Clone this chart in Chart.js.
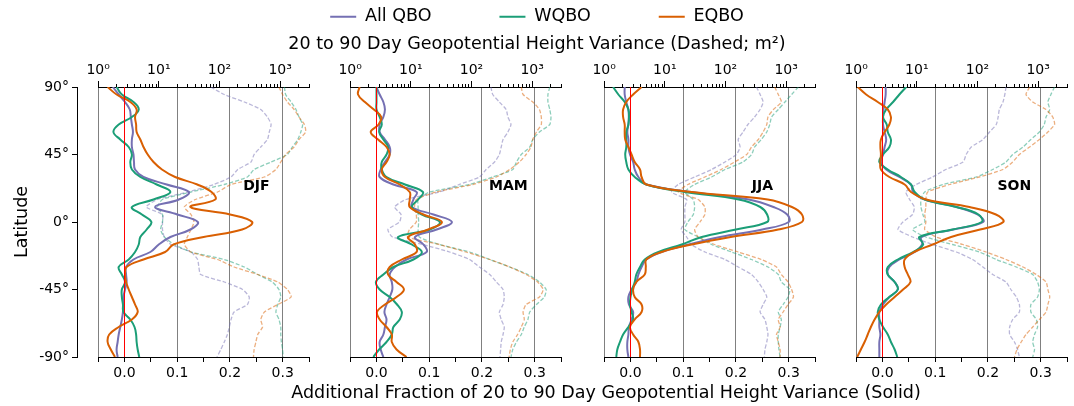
<!DOCTYPE html>
<html>
<head>
<meta charset="utf-8">
<script src="https://cdn.jsdelivr.net/npm/chart.js@4.4.0/dist/chart.umd.min.js"></script>
<style>
  html, body { margin: 0; padding: 0; background: #fff; }
  body { position: relative; width: 1074px; height: 406px; overflow: hidden; }
  canvas { position: absolute; top: 0; }
</style>
</head>
<body>
<canvas id="head" width="1074" height="320" style="left:0;top:-60px"></canvas>
<canvas id="lat" width="1140" height="406" style="left:0"></canvas>
<script>
///////////////////////////////////////////
// data

const seasons = ["DJF", "MAM", "JJA", "SON"];
const seriesNames = ["All QBO", "WQBO", "EQBO"];
const lats = [90, 85, 80, 75, 70, 65, 60, 55, 50, 45, 40, 35, 30, 25, 20, 15, 10, 5, 0,
  -5, -10, -15, -20, -25, -30, -35, -40, -45, -50, -55, -60, -65, -70, -75, -80, -85, -90];
const fracTicks = [0, 0.1, 0.2, 0.3];
const latTicks = [-90, -45, 0, 45, 90];
const zeroLine = [{ x: 0, y: -90 }, { x: 0, y: 90 }];

// additional fraction of variance (solid, bottom axis)
const djfAll = [-0.022,-0.011,0.001,0.01,0.012,0.014,0.016,0.014,0.014,0.017,0.018,0.02,0.036,0.08,0.122,0.103,0.058,0.1,0.139,0.125,0.087,0.065,0.049,0.017,0.003,0.003,0.004,0.001,-0.002,-0.002,-0.003,-0.005,-0.008,-0.011,-0.013,-0.015,-0.013];
const djfW = [-0.015,-0.005,0.017,0.027,0.014,-0.011,-0.021,-0.008,0.008,0.014,0.011,0.014,0.03,0.061,0.087,0.055,0.014,0.033,0.051,0.042,0.03,0.027,0.02,0.008,-0.011,-0.005,0.001,-0.005,-0.005,-0.003,-0.002,0.011,0.019,0.022,0.023,0.025,0.028];
const djfE = [-0.032,-0.015,0.011,0.023,0.02,0.022,0.023,0.03,0.036,0.044,0.055,0.071,0.096,0.138,0.165,0.172,0.125,0.2,0.242,0.223,0.15,0.093,0.077,0.036,0.004,0.001,0.003,0.008,0.014,0.02,0.025,0.014,-0.011,-0.029,-0.032,-0.026,-0.018];

const mamAll = [0.0,0.006,0.013,0.016,0.013,0.006,0.006,0.016,0.025,0.025,0.016,0.008,0.006,0.032,0.076,0.07,0.067,0.108,0.143,0.114,0.073,0.089,0.095,0.057,0.035,0.025,0.029,0.03,0.025,0.019,0.015,0.019,0.016,0.013,0.006,0.008,0.013];
const mamW = [0.0,0.0,0.0,0.0,0.006,0.01,0.005,0.013,0.022,0.019,0.01,0.01,0.019,0.054,0.088,0.079,0.067,0.086,0.12,0.101,0.041,0.067,0.086,0.07,0.032,0.013,-0.001,0.006,0.025,0.039,0.048,0.044,0.032,0.029,0.019,0.005,-0.006];
const mamE = [-0.032,-0.035,-0.022,-0.005,0.009,0.004,-0.011,0.003,0.019,0.025,0.019,0.01,0.016,0.044,0.063,0.063,0.063,0.089,0.124,0.098,0.06,0.073,0.076,0.048,0.025,0.022,0.038,0.052,0.038,0.016,0.001,0.006,0.019,0.029,0.029,0.038,0.057];

const jjaAll = [-0.011,-0.011,-0.008,-0.004,-0.003,-0.004,-0.006,-0.004,-0.004,-0.001,0.005,0.008,0.015,0.03,0.116,0.224,0.271,0.297,0.3,0.25,0.17,0.11,0.059,0.03,0.021,0.015,0.011,0.002,-0.004,-0.003,0.005,0.002,-0.003,-0.004,-0.006,-0.006,-0.004];
const jjaW = [-0.033,-0.023,-0.011,-0.004,-0.003,-0.004,-0.008,-0.008,-0.008,-0.01,-0.008,-0.004,0.008,0.03,0.103,0.205,0.246,0.259,0.259,0.2,0.135,0.097,0.053,0.027,0.018,0.011,0.008,0.003,0.0,-0.001,0.002,0.005,-0.004,-0.014,-0.02,-0.025,-0.027];
const jjaE = [0.021,0.005,-0.008,-0.014,-0.014,-0.011,-0.011,-0.01,-0.004,0.002,0.008,0.018,0.021,0.03,0.116,0.26,0.306,0.325,0.325,0.28,0.19,0.116,0.059,0.03,0.029,0.027,0.011,0.005,0.008,0.021,0.021,0.008,-0.001,0.005,0.015,0.018,0.018];

const sonAll = [0.006,0.006,0.004,0.002,0.001,0.001,0.004,0.007,0.004,0.001,-0.003,0.007,0.032,0.054,0.058,0.08,0.14,0.18,0.191,0.134,0.074,0.075,0.061,0.032,0.013,0.01,0.023,0.029,0.013,0.001,-0.006,-0.006,-0.006,-0.004,-0.006,-0.006,-0.006];
const sonW = [0.045,0.032,0.02,0.007,0.001,0.008,0.01,0.016,0.013,0.001,-0.006,0.01,0.035,0.054,0.061,0.08,0.14,0.182,0.188,0.133,0.07,0.077,0.058,0.029,0.01,0.01,0.023,0.029,0.013,-0.003,-0.009,-0.006,0.001,0.01,0.016,0.023,0.028];
const sonE = [-0.047,-0.031,-0.009,0.01,0.016,0.013,0.004,-0.003,-0.004,-0.003,-0.004,-0.003,0.013,0.042,0.054,0.083,0.165,0.215,0.229,0.185,0.13,0.095,0.06,0.042,0.042,0.048,0.053,0.039,0.023,0.007,-0.006,-0.015,-0.022,-0.028,-0.034,-0.041,-0.048];

// 20 to 90 day geopotential height variance, m^2 (dashed, top log axis)
const djfAllVar = [72,120,257,479,617,708,661,617,479,372,331,200,155,81,30,9.5,6.2,11.5,11.5,11.5,12.3,15.8,33.9,43.6,45.7,49,120,240,309,288,174,155,145,135,120,105,91];
const djfWVar = [1175,1230,1514,1820,2042,2344,2188,1950,1585,1318,708,372,288,120,34,11.5,9.5,11.5,11.5,10.7,12.3,17.8,33.9,120,257,427,741,955,1023,912,851,955,1023,1023,1047,1096,1122];
const djfEVar = [955,1096,1318,1698,2042,2512,2630,2042,1698,1230,1023,851,550,155,93,40,26.3,33.9,38,33.9,29.5,26.3,33.9,93,174,427,912,1318,1514,912,550,479,513,427,398,372,363];

const mamAllVar = [209,224,288,372,398,447,398,331,309,288,240,174,135,63,29.5,8.3,5.4,6.9,6.5,4.2,5.0,15.8,43.6,93,135,200,257,331,347,331,288,309,347,331,309,302,295];
const mamWVar = [1950,1820,1820,1950,2042,1950,1318,1023,912,661,550,479,224,93,20.4,13.2,13.2,13.2,13.5,13.2,13.8,29.5,93,200,427,851,1318,1698,1585,1175,912,851,741,661,550,479,447];
const mamEVar = [661,708,1023,1318,1413,1413,1175,1023,955,794,617,427,257,105,26.3,12.3,11.5,12.3,12.3,9.5,8.9,29.5,81,200,427,794,1230,1514,1318,794,708,741,661,575,479,437,417];

const jjaAllVar = [324,372,417,372,302,234,195,162,174,151,98,59,31,16.6,12.9,22.9,21.4,21.4,21.4,18.6,22.9,27.5,45.7,98,162,269,347,417,479,417,372,447,479,501,479,447,437];
const jjaWVar = [1585,1230,955,741,575,537,479,389,302,269,195,98,59,31,21.4,29.5,31,29.5,24,21.4,35.5,59,126,269,501,741,832,1148,1072,891,741,832,794,741,741,759,794];
const jjaEVar = [646,741,832,617,501,479,417,347,269,224,141,85,45.7,24,16.6,35.5,45.7,45.7,38,31,35.5,66,162,389,692,832,1072,1230,1318,1072,891,741,794,692,741,794,794];

const sonAllVar = [295,282,263,229,219,204,158,123,79,65,58,30,18.2,9.8,6.6,7.6,9.1,8.5,5.9,4.9,8.5,18.2,44.7,83,123,178,295,355,437,490,490,380,339,339,407,457,490];
const sonWVar = [1862,1622,1445,1549,1349,1259,1047,759,562,380,295,178,95,26.9,13.5,11.7,11.7,12.6,13.5,8.5,14.1,38.9,107,204,437,813,977,1047,977,759,759,933,977,871,813,871,813];
const sonEVar = [724,631,813,1349,1738,1862,1445,1047,724,490,380,263,107,34.7,15.1,14.1,14.1,13.5,14.1,13.5,20.9,57.5,138,295,562,933,1349,1445,1549,1445,1349,1047,813,631,525,447,407];

const panels = [
  { name: seasons[0], frac: [djfAll, djfW, djfE], vari: [djfAllVar, djfWVar, djfEVar] },
  { name: seasons[1], frac: [mamAll, mamW, mamE], vari: [mamAllVar, mamWVar, mamEVar] },
  { name: seasons[2], frac: [jjaAll, jjaW, jjaE], vari: [jjaAllVar, jjaWVar, jjaEVar] },
  { name: seasons[3], frac: [sonAll, sonW, sonE], vari: [sonAllVar, sonWVar, sonEVar] },
];

///////////////////////////////////////////
// styles / layout

const FONT = "'DejaVu Sans', sans-serif";
Chart.defaults.font.family = FONT;
Chart.defaults.color = "#000";

const colors = ["#7570b3", "#1b9e77", "#d95f02"];
const dashColors = ["rgba(117,112,179,0.5)", "rgba(27,158,119,0.5)", "rgba(217,95,2,0.5)"];
const panelLefts = [98, 350, 604, 856];
const panelWidth = 211;
const PAD = 30;
const SHIFT = 0.125; // puts the zero line on a pixel centre

const titleText = "20 to 90 Day Geopotential Height Variance (Dashed; m\u00b2)";
const xLabel = "Additional Fraction of 20 to 90 Day Geopotential Height Variance (Solid)";

function sup(n) {
  return String(n).split("").map(c => "\u2070\u00b9\u00b2\u00b3\u2074\u2075\u2076\u2077\u2078\u2079"[+c]).join("");
}
function isDecade(v) {
  const e = Math.round(Math.log10(v));
  return Math.abs(v - Math.pow(10, e)) < 1e-6 * v;
}
function isLogStep(v) {
  const e = Math.floor(Math.log10(v) + 1e-9);
  const m = v / Math.pow(10, e);
  return Math.abs(m - Math.round(m)) < 1e-6;
}
// gray lines at the left edge and at 0.1 / 0.2 / 0.3
function gridColor(c) {
  if (!c.tick) return "rgba(0,0,0,0)";
  const v = Math.round(c.tick.value * 100);
  if (v === -5 || v === 10 || v === 20 || v === 30) return "#808080";
  return "rgba(0,0,0,0)";
}

// season name written inside each panel
const seasonLabel = {
  id: "seasonLabel",
  afterDraw(chart, args, opts) {
    const { ctx, scales } = chart;
    ctx.save();
    ctx.font = "bold 14px " + FONT;
    ctx.fillStyle = "#000";
    ctx.textAlign = "center";
    ctx.textBaseline = "middle";
    ctx.fillText(opts.text, scales.x.getPixelForValue(0.25), scales.y.getPixelForValue(24));
    ctx.restore();
  }
};

///////////////////////////////////////////
// legend + title

new Chart(document.getElementById("head"), {
  type: "line",
  data: {
    datasets: seriesNames.map((n, i) => ({
      label: n, data: [], borderColor: colors[i], backgroundColor: colors[i], borderWidth: 0
    }))
  },
  options: {
    responsive: false, animation: false, events: [],
    scales: { x: { display: false }, y: { display: false } },
    plugins: {
      tooltip: { enabled: false },
      legend: {
        position: "top", weight: 3000,
        labels: { boxWidth: 26, boxHeight: 2, padding: 68, color: "#000", font: { size: 17.5 } }
      },
      title: {
        display: true, text: titleText, color: "#000",
        font: { size: 17.5, weight: "normal", lineHeight: 1.0 }, padding: { top: 0, bottom: 0 }
      }
    }
  }
});

///////////////////////////////////////////
// latitude axis + shared x label

new Chart(document.getElementById("lat"), {
  type: "scatter",
  data: { datasets: [] },
  options: {
    responsive: false, animation: false, events: [],
    layout: { padding: { left: 0, right: 5, top: 87, bottom: 0 } },
    plugins: { legend: { display: false }, tooltip: { enabled: false } },
    scales: {
      y: {
        type: "linear", position: "left", min: -90, max: 90,
        afterBuildTicks: s => { s.ticks = latTicks.map(v => ({ value: v })); },
        ticks: { font: { size: 14 }, color: "#000", padding: 3, callback: v => v + "\u00b0" },
        grid: { drawOnChartArea: false, tickColor: "#000", tickLength: 5 },
        border: { color: "#000" },
        title: { display: true, text: "Latitude", color: "#000", font: { size: 17.5 }, padding: { top: 11.5, bottom: 0 } },
        afterFit: s => { s.width = 77; }
      },
      x: {
        type: "linear", position: "bottom",
        ticks: { display: false }, grid: { display: false }, border: { display: false },
        title: { display: true, text: xLabel, color: "#000", font: { size: 17.5 }, padding: { top: 0, bottom: 2.5 } },
        afterFit: s => { s.height = 49; }
      }
    }
  }
});

///////////////////////////////////////////
// the four season panels

panels.forEach((p, k) => {
  const cv = document.createElement("canvas");
  cv.width = panelWidth + 2 * PAD;
  cv.height = 406;
  cv.style.left = (panelLefts[k] - PAD) + "px";
  document.body.appendChild(cv);

  // first dataset is drawn on top: red zero line, then EQBO, WQBO, All QBO
  const datasets = [{
    label: "zero", data: zeroLine, xAxisID: "x", yAxisID: "y", showLine: true,
    borderColor: "#ff0000", borderWidth: 1, pointRadius: 0, tension: 0
  }];
  [2, 1, 0].forEach(i => datasets.push({
    label: seriesNames[i],
    data: lats.map((la, j) => ({ x: p.frac[i][j], y: la })),
    xAxisID: "x", yAxisID: "y", showLine: true,
    borderColor: colors[i], borderWidth: 2, pointRadius: 0, tension: 0.4
  }));
  [2, 1, 0].forEach(i => datasets.push({
    label: seriesNames[i] + " variance",
    data: lats.map((la, j) => ({ x: p.vari[i][j], y: la })),
    xAxisID: "xt", yAxisID: "y", showLine: true,
    borderColor: dashColors[i], borderWidth: 1.3, borderDash: [4, 2], pointRadius: 0, tension: 0.2
  }));

  new Chart(cv, {
    type: "scatter",
    data: { datasets },
    options: {
      responsive: false, animation: false, events: [],
      layout: { padding: { left: PAD + SHIFT, right: PAD - SHIFT, top: 57, bottom: 19 } },
      plugins: { legend: { display: false }, tooltip: { enabled: false }, seasonLabel: { text: p.name } },
      scales: {
        x: {
          type: "linear", position: "bottom", min: -0.05, max: 0.35,
          ticks: {
            stepSize: 0.05, padding: 3, font: { size: 14 }, color: "#000", maxRotation: 0, autoSkip: false,
            callback: v => fracTicks.some(t => Math.abs(t - v) < 1e-9) ? (Math.abs(v) < 1e-9 ? 0 : v).toFixed(1) : ""
          },
          grid: { color: gridColor, lineWidth: 1, tickColor: "#000", tickLength: 5 },
          border: { color: "#000", width: 1 },
          afterFit: s => { s.height = 30; }
        },
        xt: {
          type: "logarithmic", position: "top", min: 1, max: 3000, weight: 1,
          afterBuildTicks: s => { s.ticks = s.ticks.filter(t => isDecade(t.value)); },
          ticks: {
            font: { size: 14 }, color: "#000", padding: 2, maxRotation: 0, autoSkip: false,
            callback: v => "10" + sup(Math.round(Math.log10(v)))
          },
          grid: { drawOnChartArea: false, tickColor: "#000", tickLength: 6 },
          border: { color: "#000" },
          afterFit: s => { s.height = 30; }
        },
        xm: {
          type: "logarithmic", position: "top", min: 1, max: 3000, weight: 0,
          afterBuildTicks: s => { s.ticks = s.ticks.filter(t => isLogStep(t.value)); },
          ticks: { display: false },
          grid: { drawOnChartArea: false, tickColor: "#000", tickLength: 3 },
          border: { display: false },
          afterFit: s => { s.height = 0; }
        },
        y: { type: "linear", min: -90, max: 90, display: false }
      }
    },
    plugins: [seasonLabel]
  });
});
</script>
</body>
</html>
